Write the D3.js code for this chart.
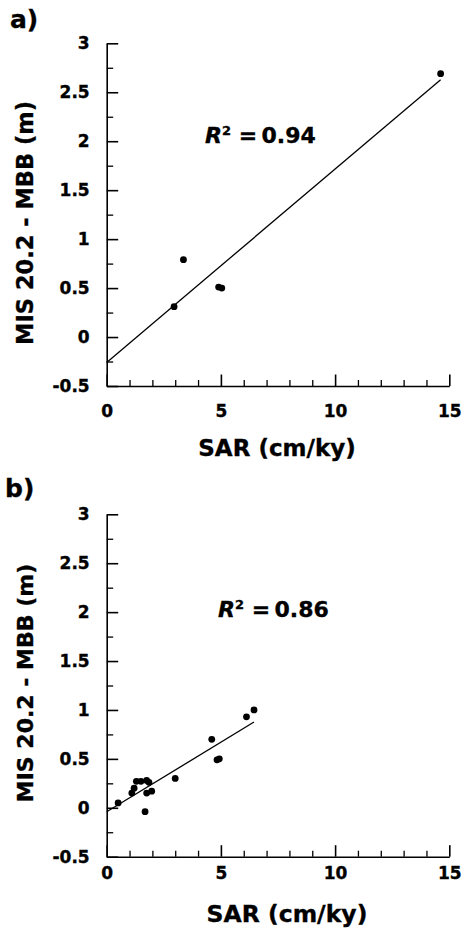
<!DOCTYPE html>
<html>
<head>
<meta charset="UTF-8" />
<title>MIS 20.2 - MBB vs SAR</title>
<script src="https://cdn.jsdelivr.net/npm/d3@7/dist/d3.min.js"></script>
<style type="text/css">
    body {
        margin: 0;
        background-color: #fff;
    }
    svg text {
        font-family: 'DejaVu Sans', sans-serif;
        font-weight: bold;
        fill: #000;
        stroke: #000;
        stroke-width: 0.35;
    }
    .axis path, .axis line {
        stroke: #000;
        stroke-width: 1.6;
    }
    .minor line {
        stroke-width: 1.3;
    }
</style>
</head>
<body>
<div id="chart"></div>
<script>
    // panel a) data
    var sarA = [2.95, 3.36, 4.9, 5.04, 14.62];
    var mbbA = [0.31, 0.79, 0.51, 0.50, 2.69];

    // panel b) data
    var sarB = [0.5, 1.1, 1.2, 1.3, 1.5, 1.75, 1.85, 1.75, 1.97, 1.68, 3.0, 4.6, 4.83, 4.93, 6.12, 6.45];
    var mbbB = [0.05, 0.15, 0.2, 0.27, 0.27, 0.28, 0.26, 0.15, 0.17, -0.04, 0.30, 0.70, 0.49, 0.50, 0.93, 1.00];

    var r2Labels = ["0.94", "0.86"];
    var panelLabels = ["a)", "b)"];

    var xTicks = [0, 5, 10, 15];
    var xMinor = [1, 2, 3, 4, 6, 7, 8, 9, 11, 12, 13, 14];
    var yTicks = [-0.5, 0, 0.5, 1, 1.5, 2, 2.5, 3];
    var yMinor = [-0.25, 0.25, 0.75, 1.25, 1.75, 2.25, 2.75];

    var xTitle = "SAR (cm/ky)";
    var yTitle = "MIS 20.2 - MBB (m)";

    var W = 462, H = 930;

    var panels = [
        {x: sarA, y: mbbA, top: 43.3, bottom: 386, tickPad: 19, label: [10, 28], r2: [205, 143],
            xTitle: [277, 456, 23], yTitle: [33, 223, 22.5]},
        {x: sarB, y: mbbB, top: 514.3, bottom: 856.7, tickPad: 10, label: [5, 497], r2: [218, 617],
            xTitle: [287, 922, 23.5], yTitle: [33, 683, 22]}
    ];

    var svg = d3.select("#chart")
        .append("svg")
        .attr("width", W)
        .attr("height", H);

    // least squares fit
    var fit = function(xs, ys) {
        var mx = d3.mean(xs), my = d3.mean(ys);
        var sxy = d3.sum(xs, function(v, i){ return (v - mx) * (ys[i] - my); });
        var sxx = d3.sum(xs, function(v){ return (v - mx) * (v - mx); });
        var slope = sxy / sxx;
        return {slope: slope, icpt: my - slope * mx};
    };

    panels.forEach(function(p, k) {
        var x = d3.scaleLinear().domain([0, 15]).range([106.7, 449.3]);
        var y = d3.scaleLinear().domain([-0.5, 3]).range([p.bottom, p.top]);

        var g = svg.append("g");

        // minor ticks
        g.append("g")
            .attr("class", "axis minor")
            .attr("transform", "translate(0," + p.bottom + ")")
            .call(d3.axisBottom(x).tickValues(xMinor).tickSize(-6).tickFormat(""))
            .call(function(s){ s.select(".domain").remove(); });

        g.append("g")
            .attr("class", "axis minor")
            .attr("transform", "translate(" + x(0) + ",0)")
            .call(d3.axisLeft(y).tickValues(yMinor).tickSize(-6.5).tickFormat(""))
            .call(function(s){ s.select(".domain").remove(); });

        // major axes
        var xa = g.append("g")
            .attr("class", "axis")
            .attr("transform", "translate(0," + p.bottom + ")")
            .call(d3.axisBottom(x).tickValues(xTicks).tickSize(-11.5).tickSizeOuter(0)
                .tickPadding(p.tickPad).tickFormat(function(d){ return String(d); }));
        xa.selectAll("text").attr("font-size", 17);

        var ya = g.append("g")
            .attr("class", "axis")
            .attr("transform", "translate(" + x(0) + ",0)")
            .call(d3.axisLeft(y).tickValues(yTicks).tickSize(-11.5).tickSizeOuter(0)
                .tickPadding(17).tickFormat(function(d){ return String(d); }));
        ya.selectAll("text").attr("font-size", 17);

        g.selectAll(".axis text").style("font-family", "'DejaVu Sans', sans-serif").style("font-weight", "bold");

        // regression line
        var f = fit(p.x, p.y);
        var xMax = d3.max(p.x);
        g.append("path")
            .datum([0, xMax])
            .attr("d", d3.line()
                .x(function(d){ return x(d); })
                .y(function(d){ return y(f.icpt + f.slope * d); }))
            .attr("fill", "none")
            .attr("stroke", "#000")
            .attr("stroke-width", 1.3);

        // points
        g.selectAll("circle")
            .data(p.x)
            .enter().append("circle")
            .attr("cx", function(d){ return x(d); })
            .attr("cy", function(d, i){ return y(p.y[i]); })
            .attr("r", 3.4)
            .attr("fill", "#000");

        // titles
        g.append("text")
            .attr("x", p.xTitle[0])
            .attr("y", p.xTitle[1])
            .attr("text-anchor", "middle")
            .attr("font-size", p.xTitle[2])
            .text(xTitle);

        g.append("text")
            .attr("transform", "translate(" + p.yTitle[0] + "," + p.yTitle[1] + ") rotate(-90)")
            .attr("text-anchor", "middle")
            .attr("font-size", p.yTitle[2])
            .text(yTitle);

        g.append("text")
            .attr("x", p.label[0])
            .attr("y", p.label[1])
            .attr("font-size", 25)
            .text(panelLabels[k]);

        // R squared
        var r2 = g.append("text")
            .attr("x", p.r2[0])
            .attr("y", p.r2[1])
            .attr("font-size", 22);
        r2.append("tspan").attr("font-style", "italic").text("R");
        r2.append("tspan").attr("font-size", 13).attr("dy", -8).text("2");
        r2.append("tspan").attr("dy", 8).text(" =\u2009" + r2Labels[k]);
    });
</script>
</body>
</html>
